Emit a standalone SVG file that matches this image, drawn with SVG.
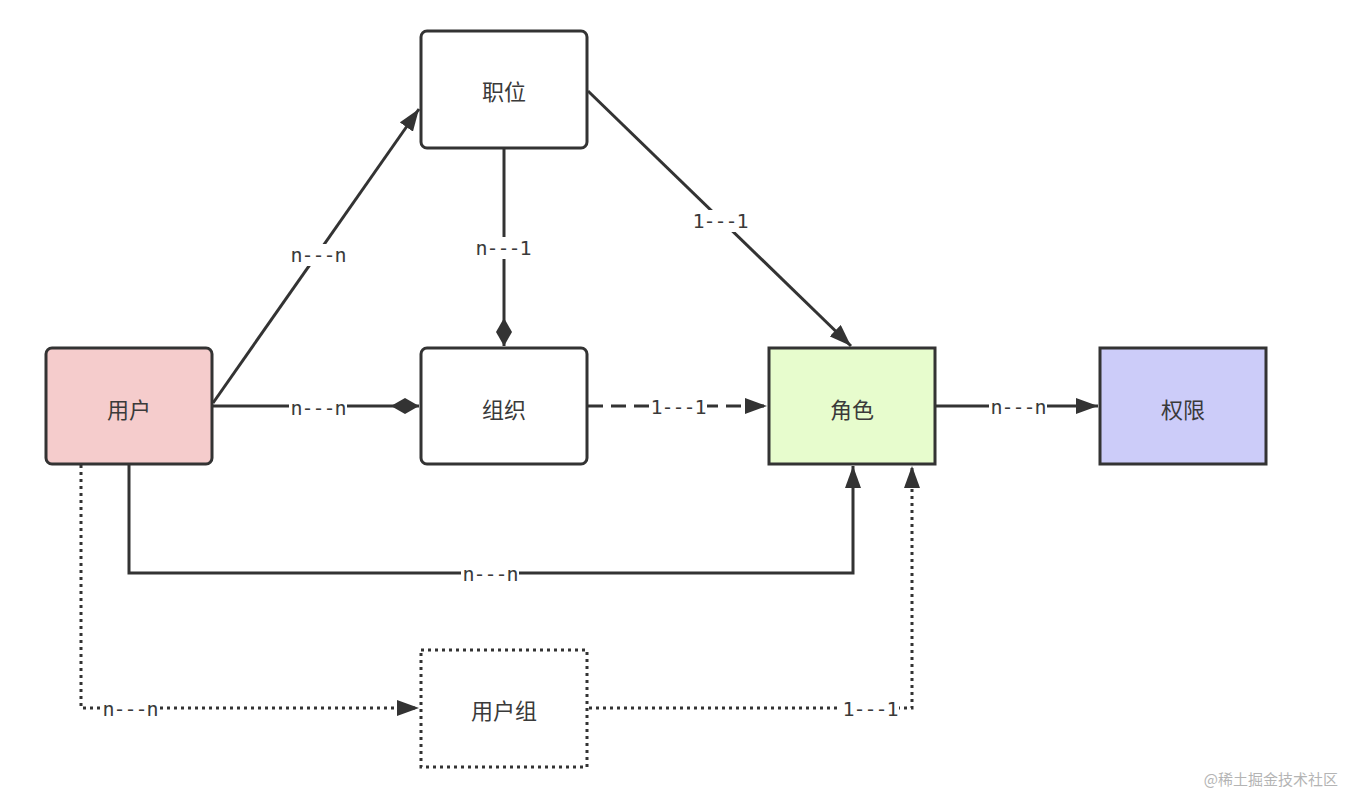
<svg xmlns="http://www.w3.org/2000/svg" width="1351" height="798" viewBox="0 0 1351 798">
<style>
.node{stroke:#333;stroke-width:3}
.nt{font-family:"Noto Sans CJK SC","Noto Sans",sans-serif;font-size:22px;fill:#3a3a3a;text-anchor:middle;dominant-baseline:central}
.ln{fill:none;stroke:#333;stroke-width:3}
.dot{stroke-dasharray:3 4}
.dash{stroke-dasharray:15 8}
.lb{font-family:"DejaVu Sans Mono","Liberation Mono",monospace;font-size:20px;letter-spacing:-1px;fill:#3a3a3a;text-anchor:middle;dominant-baseline:central}
.bg{fill:#fff}
</style>
<defs>
<marker id="arr" markerUnits="userSpaceOnUse" markerWidth="24" markerHeight="16" refX="22" refY="8" orient="auto">
<path d="M0,0 L22,8 L0,16 z" fill="#333"/>
</marker>
<marker id="dia" markerUnits="userSpaceOnUse" markerWidth="30" markerHeight="16" refX="28" refY="8" orient="auto">
<path d="M0,8 L14,0 L28,8 L14,16 z" fill="#333"/>
</marker>
</defs>
<rect width="1351" height="798" fill="#fff"/>
<g id="connectors">
<line class="ln" x1="213" y1="403" x2="419" y2="109" marker-end="url(#arr)"/>
<line class="ln" x1="213" y1="406" x2="419" y2="406" marker-end="url(#dia)"/>
<line class="ln" x1="504" y1="148" x2="504" y2="346" marker-end="url(#dia)"/>
<line class="ln" x1="588" y1="91" x2="851" y2="346" marker-end="url(#arr)"/>
<line class="ln dash" x1="588" y1="406" x2="767" y2="406" marker-end="url(#arr)"/>
<line class="ln" x1="936" y1="406" x2="1098" y2="406" marker-end="url(#arr)"/>
<polyline class="ln" points="129,465 129,573 853,573 853,466" marker-end="url(#arr)"/>
<polyline class="ln dot" points="81,465 81,708 419,708" marker-end="url(#arr)"/>
<polyline class="ln dot" points="589,708 912,708 912,466" marker-end="url(#arr)"/>
<rect class="bg" x="289" y="244" width="58" height="22"/><text class="lb" x="318" y="255">n---n</text>
<rect class="bg" x="289" y="397" width="58" height="22"/><text class="lb" x="318" y="408">n---n</text>
<rect class="bg" x="474" y="237" width="58" height="22"/><text class="lb" x="503" y="248">n---1</text>
<rect class="bg" x="691" y="210" width="58" height="22"/><text class="lb" x="720" y="221">1---1</text>
<rect class="bg" x="649" y="396" width="58" height="22"/><text class="lb" x="678" y="407">1---1</text>
<rect class="bg" x="989" y="396" width="58" height="22"/><text class="lb" x="1018" y="407">n---n</text>
<rect class="bg" x="461" y="563" width="58" height="22"/><text class="lb" x="490" y="574">n---n</text>
<rect class="bg" x="101" y="698" width="58" height="22"/><text class="lb" x="130" y="709">n---n</text>
<rect class="bg" x="841" y="698" width="58" height="22"/><text class="lb" x="870" y="709">1---1</text>
</g>
<g id="n-zhiwei"><rect class="node" x="421" y="31" width="166" height="117" rx="6" fill="#fff"/><text class="nt" x="504" y="90">职位</text></g>
<g id="n-yonghu"><rect class="node" x="46" y="348" width="166" height="116" rx="6" fill="#f5cccc"/><text class="nt" x="129" y="408">用户</text></g>
<g id="n-zuzhi"><rect class="node" x="421" y="348" width="166" height="116" rx="6" fill="#fff"/><text class="nt" x="504" y="408">组织</text></g>
<g id="n-juese"><rect class="node" x="769" y="348" width="166" height="116" fill="#e7fccd"/><text class="nt" x="852" y="408">角色</text></g>
<g id="n-quanxian"><rect class="node" x="1100" y="348" width="166" height="116" fill="#ccccf9"/><text class="nt" x="1183" y="408">权限</text></g>
<g id="n-yonghuzu"><rect class="node dot" x="421" y="650" width="166" height="117" fill="#fff"/><text class="nt" x="504" y="709">用户组</text></g>
<text x="1338" y="778" font-family="Noto Sans CJK SC, sans-serif" font-size="15" fill="#b4b4b4" text-anchor="end" dominant-baseline="central">@稀土掘金技术社区</text>
</svg>
